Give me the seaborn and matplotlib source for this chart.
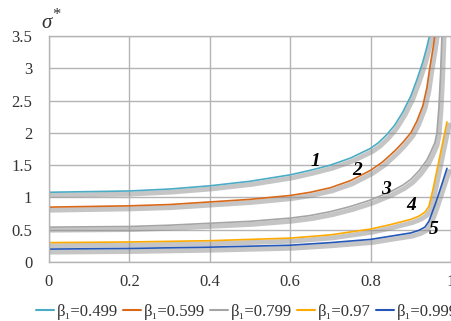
import numpy as np
import pandas as pd
import seaborn as sns
import matplotlib.pyplot as plt
import matplotlib.patheffects as pe

# values
x1 = [0, 0.1, 0.2, 0.3, 0.4, 0.5, 0.6, 0.65, 0.7, 0.75, 0.8, 0.82, 0.84,
      0.86, 0.88, 0.9, 0.915, 0.93, 0.94, 0.95]
y1 = [1.08, 1.09, 1.10, 1.13, 1.18, 1.25, 1.35, 1.42, 1.50, 1.61, 1.76, 1.85,
      1.97, 2.12, 2.32, 2.57, 2.82, 3.1, 3.33, 3.6]

x2 = [0, 0.1, 0.2, 0.3, 0.4, 0.5, 0.6, 0.65, 0.7, 0.75, 0.8, 0.83, 0.86,
      0.88, 0.9, 0.915, 0.93, 0.94, 0.947, 0.955, 0.962]
y2 = [0.85, 0.86, 0.87, 0.89, 0.93, 0.97, 1.03, 1.08, 1.15, 1.26, 1.42, 1.55,
      1.72, 1.85, 2.0, 2.18, 2.42, 2.7, 3.0, 3.3, 3.6]

x3 = [0, 0.1, 0.2, 0.3, 0.4, 0.5, 0.6, 0.65, 0.7, 0.75, 0.8, 0.85, 0.88,
      0.9, 0.92, 0.94, 0.95, 0.96, 0.965, 0.97, 0.974, 0.978]
y3 = [0.54, 0.545, 0.55, 0.57, 0.6, 0.63, 0.68, 0.72, 0.78, 0.86, 0.96, 1.09,
      1.19, 1.28, 1.41, 1.58, 1.71, 1.85, 2.0, 2.4, 2.9, 3.6]

x4 = [0, 0.2, 0.4, 0.6, 0.7, 0.8, 0.85, 0.9, 0.92, 0.935, 0.945, 0.955,
      0.965, 0.975, 0.99]
y4 = [0.30, 0.31, 0.33, 0.37, 0.42, 0.51, 0.58, 0.66, 0.71, 0.77, 0.86, 1.12,
      1.42, 1.72, 2.17]

x5 = [0, 0.2, 0.4, 0.6, 0.7, 0.8, 0.85, 0.9, 0.92, 0.935, 0.945, 0.96,
      0.975, 0.99]
y5 = [0.20, 0.21, 0.23, 0.26, 0.30, 0.35, 0.40, 0.45, 0.49, 0.54, 0.63, 0.88,
      1.16, 1.45]

labels = ['β₁=0.499', 'β₁=0.599', 'β₁=0.799', 'β₁=0.97', 'β₁=0.999']
colors = ['#4BACC6', '#D9691A', '#A5A5A5', '#FFAA00', '#2457B8']

curve_names = ['1', '2', '3', '4', '5']
name_x = [0.663, 0.767, 0.838, 0.902, 0.956]
name_y = [1.55, 1.42, 1.13, 0.87, 0.50]

xticks = [0, 0.2, 0.4, 0.6, 0.8, 1.0]
xticklabels = ['0', '0.2', '0.4', '0.6', '0.8', '1']
yticks = [0, 0.5, 1, 1.5, 2, 2.5, 3, 3.5]
yticklabels = ['0', '0.5', '1', '1.5', '2', '2.5', '3', '3.5']

sns.set_theme(style='white')
plt.rcParams['font.family'] = ['Liberation Serif', 'DejaVu Serif']

fig = plt.figure(figsize=(4.52, 3.21), dpi=100)
ax = fig.add_axes([49/452, 59/321, 402/452, 226/321])

xs = [x1, x2, x3, x4, x5]
ys = [y1, y2, y3, y4, y5]
for xv, yv, lab, col in zip(xs, ys, labels, colors):
    df = pd.DataFrame({'x': xv, 'y': yv})
    sns.lineplot(data=df, x='x', y='y', color=col, label=lab, ax=ax,
                 sort=False, linewidth=1.2)

shadow = [pe.SimpleLineShadow(offset=(1.5, -2.2), shadow_color='#8c8c8c',
                              alpha=0.5, linewidth=3.5), pe.Normal()]
for line in ax.get_lines():
    line.set_path_effects(shadow)

ax.set_xlim(0, 1)
ax.set_ylim(0, 3.5)
ax.set_xticks(xticks)
ax.set_xticklabels(xticklabels)
ax.set_yticks(yticks)
ax.set_yticklabels(yticklabels)
ax.set_xlabel('')
ax.set_ylabel('')
ax.tick_params(axis='x', length=0, pad=9, labelsize=12, labelcolor='#333333')
ax.tick_params(axis='y', length=0, pad=12, labelsize=12, labelcolor='#333333')
ax.grid(True, color='#B4B4B4', linewidth=1.0)
for s in ax.spines.values():
    s.set_color('#B4B4B4')
    s.set_linewidth(1.0)

for n, tx, ty in zip(curve_names, name_x, name_y):
    ax.text(tx, ty, n, fontsize=14, fontweight='bold', fontstyle='italic',
            ha='center', va='center', color='black')

# axis title
fig.text(41/452, 1 - 24/321, 'σ', fontsize=15, fontstyle='italic',
         family=['Liberation Serif', 'DejaVu Serif'],
         ha='left', va='center', color='#333333')
fig.text(52/452, 1 - 15/321, '*', fontsize=12,
         ha='left', va='center', color='#333333')

ax.get_legend().remove()
handles, labs = ax.get_legend_handles_labels()
leg = fig.legend(handles, labs, loc='center left', ncol=5, frameon=False,
                 bbox_to_anchor=(36/452, 1 - 312/321), borderpad=0,
                 borderaxespad=0, handlelength=1.1, handletextpad=0.15,
                 columnspacing=0.3, fontsize=12)
for h in leg.legend_handles:
    h.set_path_effects([])
    h.set_linewidth(1.5)
for t in leg.get_texts():
    t.set_color('#333333')

fig.savefig('out.png', dpi=100)
